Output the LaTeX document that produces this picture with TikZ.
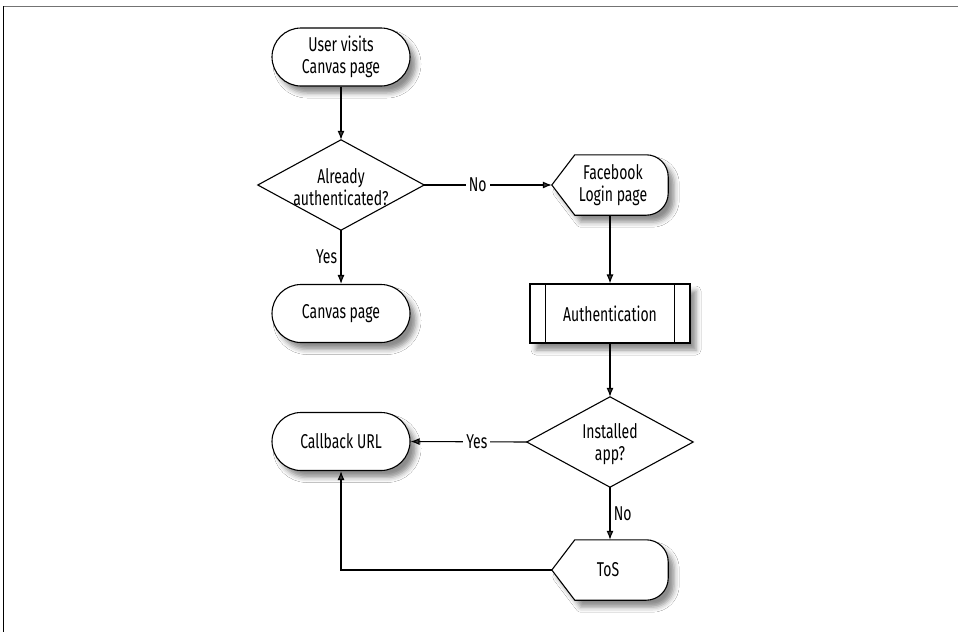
\documentclass[tikz,border=0pt]{standalone}
\usepackage{fontspec}
\setmainfont[FakeStretch=0.7]{Fira Sans}
\usetikzlibrary{arrows.meta,shadows.blur,calc}
\begin{document}
\begin{tikzpicture}[x=1pt,y=-1pt,
  font=\fontsize{20}{22}\selectfont,
  lw/.style={line width=1.1pt},
  shd/.style={blur shadow={shadow xshift=6pt, shadow yshift=-7pt, shadow blur radius=5pt, shadow opacity=45}},
  term/.style={draw, lw, rounded corners=29pt, minimum width=138pt, minimum height=58pt, fill=white, align=center, shd},
  box/.style={minimum width=#1, minimum height=60pt, inner sep=0pt, align=center},
  arr/.style={lw, -{Latex[length=9pt,width=7pt]}},
  lbl/.style={fill=white, inner sep=3pt}
]
\useasboundingbox (0,0) rectangle (958,632);
\fill[white] (0,0) rectangle (958,632);
% frame
\draw[line width=1.8pt, black!55] (3,6.5) -- (958,6.5);
\draw[line width=1.5pt, black] (3.5,6) -- (3.5,632);

% nodes
\node[term] (start) at (341,57) {User visits\\Canvas page};
\node[box=166pt, minimum height=90pt] (d1) at (341,185) {};
\node[term] (canvas) at (341,313.5) {Canvas page};
\node[box=116pt] (fb) at (610,185) {};
\node[draw, lw, fill=white, shd, minimum width=160pt, minimum height=59pt] (auth) at (610,313.5) {};
\node[box=166pt, minimum height=90pt] (d2) at (610,442) {};
\node[term] (cb) at (341,441.5) {Callback URL};
\node[box=116pt] (tos) at (610,570) {};

% diamonds
\draw[lw, fill=white] (d1.west) -- (d1.north) -- (d1.east) -- (d1.south) -- cycle;
\node[align=center] at ([yshift=-2pt]d1.center) {Already\\authenticated?};
\draw[lw, fill=white] (d2.west) -- (d2.north) -- (d2.east) -- (d2.south) -- cycle;
\node[align=center] at ([yshift=-2pt]d2.center) {Installed\\app?};

% display shapes
\draw[lw, fill=white, shd] (fb.west) -- ([xshift=23pt]fb.north west) [rounded corners=22pt] -- (fb.north east) -- (fb.south east) [sharp corners] -- ([xshift=23pt]fb.south west) -- cycle;
\node[align=center] at ([xshift=3pt]fb.center) {Facebook\\Login page};
\draw[lw, fill=white, shd] (tos.west) -- ([xshift=23pt]tos.north west) [rounded corners=22pt] -- (tos.north east) -- (tos.south east) [sharp corners] -- ([xshift=23pt]tos.south west) -- cycle;
\node at ([xshift=-2pt]tos.center) {ToS};

% predefined process
\draw[lw] ([xshift=16pt]auth.north west) -- ([xshift=16pt]auth.south west);
\draw[lw] ([xshift=-16pt]auth.north east) -- ([xshift=-16pt]auth.south east);
\node at (auth) {Authentication};

% connectors
\draw[arr] (start.south) -- (d1.north);
\draw[arr] (d1.east) -- node[lbl, pos=0.42] {No} (fb.west);
\draw[arr] (d1.south) -- node[left, pos=0.5] {Yes} (canvas.north);
\draw[arr] (fb.south) -- (auth.north);
\draw[arr] (auth.south) -- (d2.north);
\draw[arr] (d2.west) -- node[lbl, pos=0.43] {Yes} (cb.east);
\draw[arr] (d2.south) -- node[right, pos=0.5] {No} (tos.north);
\draw[arr] (tos.west) -| (cb.south);
\end{tikzpicture}
\end{document}
